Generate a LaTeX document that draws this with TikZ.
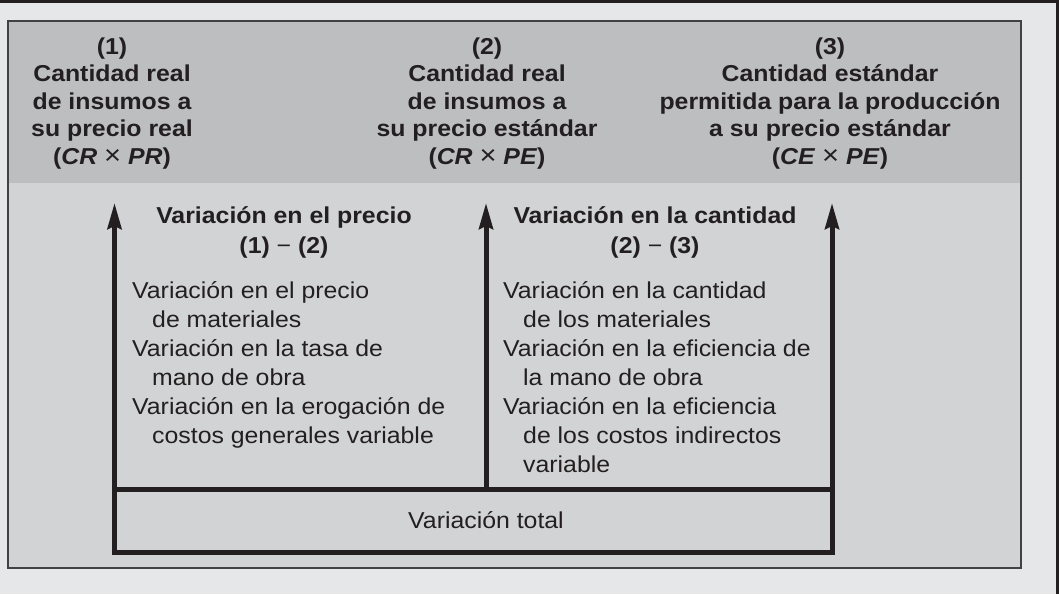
\documentclass[tikz,border=0pt]{standalone}
\usepackage{fontspec}
\setmainfont{Liberation Sans}[FakeStretch=1.08]
\usetikzlibrary{arrows.meta}
\definecolor{outerbg}{HTML}{E6E7E8}
\definecolor{headbg}{HTML}{BCBEC0}
\definecolor{bodybg}{HTML}{D1D3D4}
\definecolor{ink}{HTML}{231F20}
\tikzset{
  headtext/.style={font=\bfseries\fontsize{23}{27.5}\selectfont, align=center, inner sep=0pt, text=ink, anchor=base},
  varhead/.style={font=\bfseries\fontsize{23}{30}\selectfont, align=center, inner sep=0pt, text=ink, anchor=base},
  listtext/.style={font=\fontsize{23}{29}\selectfont, align=left, inner sep=0pt, text=ink, anchor=base west},
  totaltext/.style={font=\fontsize{23}{29}\selectfont, inner sep=0pt, text=ink, anchor=base},
  heavy/.style={draw=ink, line width=5pt},
  uparrow/.style={heavy, -{Stealth[length=26pt,width=14pt,inset=3pt]}},
}
\newcommand{\ind}{\hspace*{20pt}}
\newcommand{\tms}{{\mdseries\fontsize{27}{27.5}\selectfont ×}}
\newcommand{\mns}{{\mdseries −}}
\begin{document}
\begin{tikzpicture}[x=1pt,y=-1pt]
\useasboundingbox (0,0) rectangle (1059,594);
\fill[outerbg] (0,0) rectangle (1059,594);
\draw[ink, line width=3pt] (0,1.5) -- (1057.5,1.5) -- (1057.5,594);
\fill[headbg] (8,21) rectangle (1021,183);
\fill[bodybg] (8,183) rectangle (1021,568);
\draw[ink!85, line width=1.5pt] (8,21) rectangle (1021,568);

% header (base anchor = baseline of last line)
\node[headtext] (h1) at (112,164) {(1)\\Cantidad real\\de insumos a\\su precio real\\(\textit{CR} \tms{} \textit{PR})};
\node[headtext] (h2) at (487,164) {(2)\\Cantidad real\\de insumos a\\su precio estándar\\(\textit{CR} \tms{} \textit{PE})};
\node[headtext] (h3) at (830,164) {(3)\\Cantidad estándar\\permitida para la producción\\a su precio estándar\\(\textit{CE} \tms{} \textit{PE})};

% variance headings
\node[varhead] (v1) at (284,253) {Variación en el precio\\(1) \mns{} (2)};
\node[varhead] (v2) at (655,253) {Variación en la cantidad\\(2) \mns{} (3)};

% lists
\node[listtext] (l1) at (132,443) {Variación en el precio\\\ind de materiales\\Variación en la tasa de\\\ind mano de obra\\Variación en la erogación de\\\ind costos generales variable};
\node[listtext] (l2) at (503,472) {Variación en la cantidad\\\ind de los materiales\\Variación en la eficiencia de\\\ind la mano de obra\\Variación en la eficiencia\\\ind de los costos indirectos\\\ind variable};

% structure
\coordinate (bl) at (114.5,552);
\coordinate (br) at (832,552);
\coordinate (ml) at (114.5,489);
\coordinate (mr) at (832,489);
\coordinate (mm) at (486,489);
\coordinate (t1) at (114.5,203);
\coordinate (t2) at (486,203);
\coordinate (t3) at (832,203);

\node[totaltext] (tot) at (486,528) {Variación total};

\draw[heavy, line cap=rect] (bl) -- (br);
\draw[heavy] (ml) -- (mr);
\draw[uparrow] (bl) -- (t1);
\draw[uparrow] (br) -- (t3);
\draw[uparrow] (mm) -- (t2);
\end{tikzpicture}
\end{document}
